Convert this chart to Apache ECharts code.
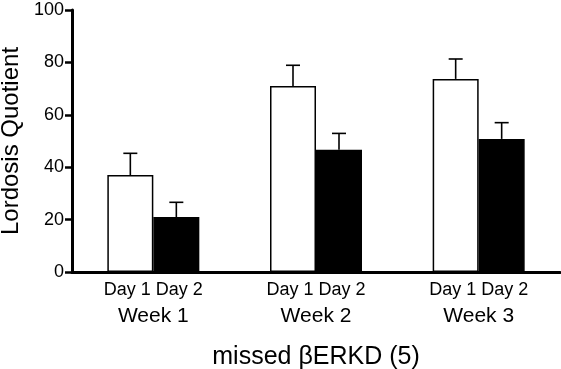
<!DOCTYPE html>
<html><head><meta charset="utf-8">
<script src="https://cdn.jsdelivr.net/npm/echarts@6/dist/echarts.min.js"></script>
<style>html,body{margin:0;padding:0;background:#fff}#c{width:561px;height:369px}</style>
</head><body><div id="c"></div>
<script>
var weeks = ['Week 1', 'Week 2', 'Week 3'];
var day1 = [37, 71, 73.7];
var day1Err = [8.3, 7.9, 7.6];
var day2 = [21, 46.7, 50.8];
var day2Err = [5.6, 6.2, 6.2];
var yTicks = [0, 20, 40, 60, 80, 100];

var FONT = '"Liberation Sans", Arial, sans-serif';
var BAR_W = 46;

function errSeries(vals, errs, dir) {
  return {
    type: 'custom',
    z: 5,
    data: vals.map(function (v, i) { return [i, v, v + errs[i]]; }),
    renderItem: function (params, api) {
      var base = api.coord([api.value(0), api.value(1)]);
      var top = api.coord([api.value(0), api.value(2)]);
      var x = base[0] + dir * BAR_W / 2;
      var s = { stroke: '#000', lineWidth: 1.6 };
      return { type: 'group', children: [
        { type: 'line', shape: { x1: x, y1: base[1], x2: x, y2: top[1] }, style: s },
        { type: 'line', shape: { x1: x - 7, y1: top[1], x2: x + 7, y2: top[1] }, style: s }
      ]};
    }
  };
}

var chart = echarts.init(document.getElementById('c'));
chart.setOption({
  animation: false,
  backgroundColor: '#fff',
  textStyle: { fontFamily: FONT, color: '#000' },
  grid: { left: 72, right: 1, top: 10, bottom: 97, containLabel: false, outerBoundsMode: 'none' },
  xAxis: {
    type: 'category',
    data: weeks,
    boundaryGap: true,
    name: 'missed \u03b2ERKD (5)',
    nameLocation: 'middle',
    nameGap: 73,
    nameTextStyle: { fontFamily: FONT, fontSize: 25, color: '#000' },
    axisLine: { lineStyle: { color: '#000', width: 3 } },
    axisTick: { inside: true, length: 6, lineStyle: { color: '#000', width: 1.5 } },
    axisLabel: {
      margin: 7,
      formatter: function (v) { return '{d|Day 1 Day 2}\n{w|' + v + '}'; },
      rich: {
        d: { fontFamily: FONT, fontSize: 18, lineHeight: 22, color: '#000' },
        w: { fontFamily: FONT, fontSize: 21, lineHeight: 30, color: '#000' }
      }
    }
  },
  yAxis: {
    type: 'value',
    min: yTicks[0], max: yTicks[yTicks.length - 1], interval: 20,
    name: 'Lordosis Quotient',
    nameLocation: 'middle',
    nameRotate: 90,
    nameGap: 38,
    nameTextStyle: { fontFamily: FONT, fontSize: 24, color: '#000' },
    splitLine: { show: false },
    axisLine: { show: true, lineStyle: { color: '#000', width: 3 } },
    axisTick: { show: true, length: 7, lineStyle: { color: '#000', width: 2.5 } },
    axisLabel: { margin: 8, fontFamily: FONT, fontSize: 18, color: '#000' }
  },
  series: [
    { type: 'bar', data: day1, barWidth: BAR_W, barGap: '0%',
      itemStyle: { color: '#fff', borderColor: '#000', borderWidth: 1.5 } },
    { type: 'bar', data: day2, barWidth: BAR_W, barGap: '0%',
      itemStyle: { color: '#000', borderColor: '#000', borderWidth: 1.5 } },
    errSeries(day1, day1Err, -1),
    errSeries(day2, day2Err, 1)
  ]
});
</script></body></html>
